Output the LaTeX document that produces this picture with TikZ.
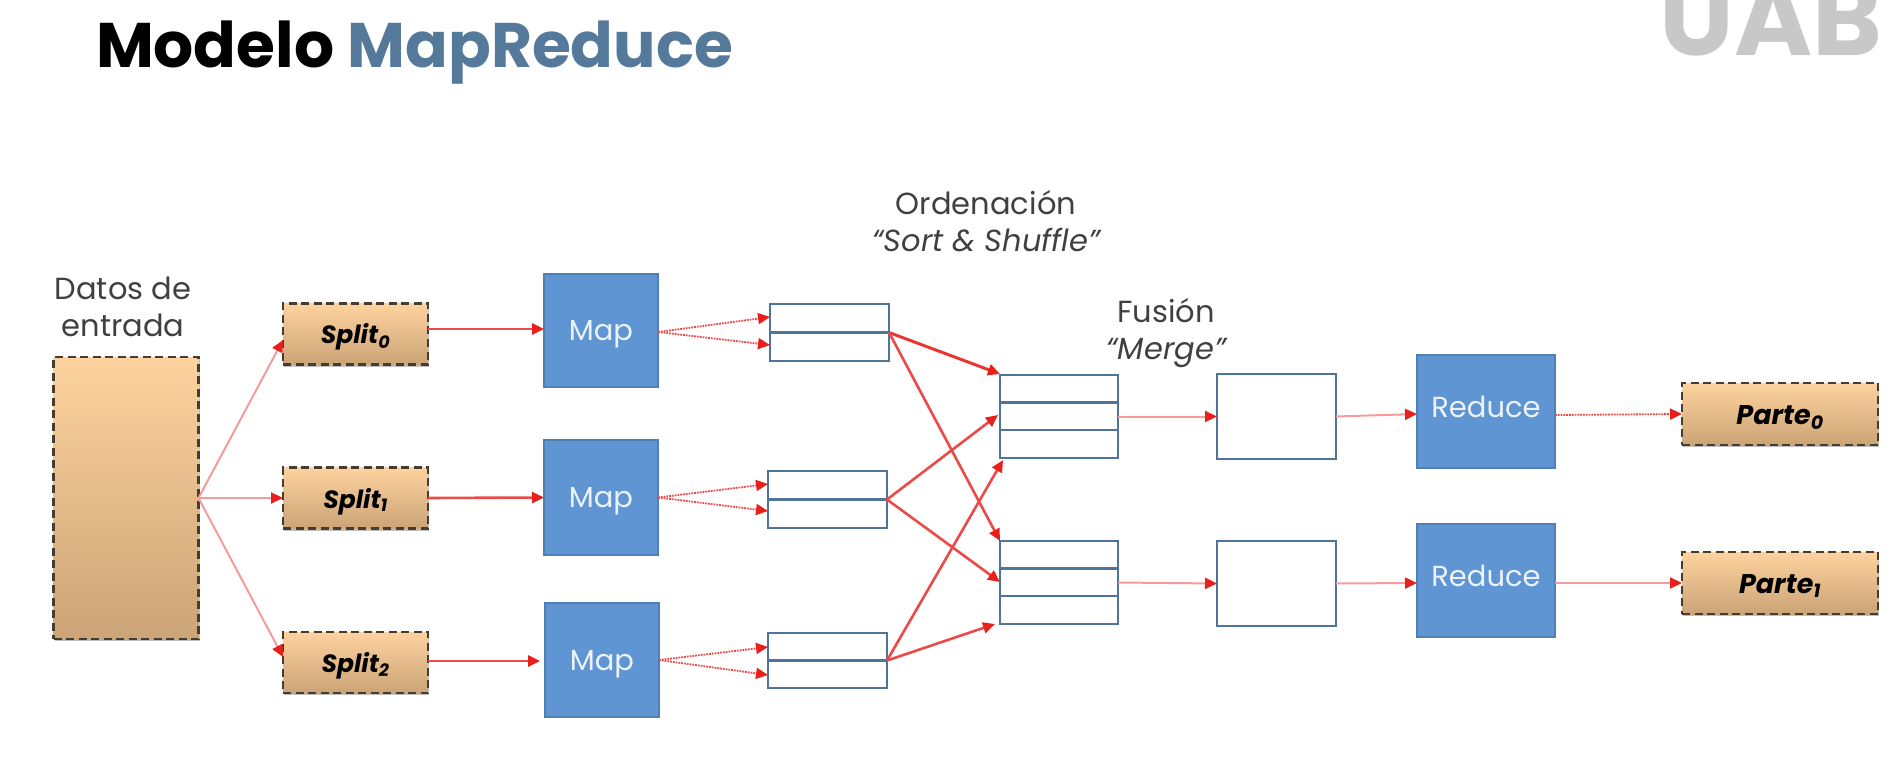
\documentclass[tikz,border=0pt]{standalone}
\usepackage{fontspec}
\setmainfont{Poppins}
\usetikzlibrary{arrows.meta,calc,shadows}
\definecolor{arrowred}{HTML}{E8201C}
\definecolor{softred}{HTML}{F49C9C}
\definecolor{midred}{HTML}{EC4A48}
\definecolor{boxblue}{HTML}{5F95D3}
\definecolor{boxedge}{HTML}{4F80B5}
\definecolor{stackedge}{HTML}{4F7399}
\definecolor{txtgrey}{HTML}{404040}
\definecolor{titleblue}{HTML}{55799A}
\definecolor{logogrey}{HTML}{C8C8C8}
\definecolor{orangetop}{HTML}{FDD29E}
\definecolor{orangebot}{HTML}{CBA477}
\definecolor{dashbrown}{HTML}{463C30}
\newcommand{\fs}[1]{\fontsize{#1}{#1}\selectfont}
\tikzset{
  base/.style={rectangle,inner sep=0pt,outer sep=0pt},
  sandbox/.style={base,draw=dashbrown,line width=2.8pt,dash pattern=on 8pt off 4.5pt,
    top color=orangetop,bottom color=orangebot,
    drop shadow={shadow xshift=1pt,shadow yshift=-2pt,opacity=.25,fill=black}},
  splitbox/.style={sandbox,minimum width=145pt,minimum height=61pt,text height=20pt,text depth=0pt,font=\fs{25}\bfseries\itshape\color{black}},
  partebox/.style={sandbox,minimum width=196pt,minimum height=62pt,text height=20pt,text depth=0pt,font=\fs{27}\bfseries\itshape\color{black}},
  procbox/.style={base,fill=boxblue,draw=boxedge,line width=1.2pt,text=white!88!boxblue,font=\fs{29},text height=20pt},
  mapbox/.style={procbox,text depth=0pt},
  reducebox/.style={procbox,minimum width=138pt,minimum height=113pt,text depth=9pt},
  stackbox/.style={base,draw=stackedge,line width=2.5pt,fill=white},
  stackline/.style={draw=stackedge,line width=2.5pt},
  lbl/.style={inner sep=0pt,outer sep=0pt,align=center,text=txtgrey,font=\fs{30.5}},
  tip/.style={-{Triangle[color=arrowred,length=12pt,width=11pt]}},
  thinarrow/.style={tip,draw=softred,line width=2pt},
  dotarrow/.style={tip,draw=midred,line width=1.8pt,dash pattern=on 1.8pt off 1pt},
  midarrow/.style={tip,draw=midred,line width=2.6pt},
  thickarrow/.style={tip,draw=arrowred!90!white,line width=3pt},
}
\begin{document}
\begin{tikzpicture}[x=1pt,y=-1pt]
\useasboundingbox (0,0) rectangle (1901,767);
% Title and logo
\node[base,anchor=base west,font=\fs{63}\bfseries] (title) at (96,68) {\textcolor{black}{Modelo} \textcolor{titleblue}{MapReduce}};
\begin{scope}
\clip (0,0) rectangle (1901,767);
\node[base,anchor=base east,font=\fs{106}\bfseries,text=logogrey] (logo) at (1882,56) {UAB};
\end{scope}
% Labels
\node[lbl] (datos) at (123,307) {Datos de\\[6pt]entrada};
\node[lbl] (orden) at (986,221) {Ordenación\\[6pt]{\itshape “Sort \& Shuffle”}};
\node[lbl] (fusion) at (1166,333) {Fusión\\[6pt]{\itshape “Merge”}};
% Input
\node[sandbox,minimum width=145pt,minimum height=282pt] (data) at (126,498) {};
\node[splitbox] (split0) at (355.5,334) {Split\textsubscript{0}};
\node[splitbox] (split1) at (355.5,498) {Split\textsubscript{1}};
\node[splitbox] (split2) at (355.5,662.5) {Split\textsubscript{2}};
% Map
\node[mapbox,minimum width=114pt,minimum height=113pt] (map0) at (601,330.5) {Map\hspace{8pt}};
\node[mapbox,minimum width=114pt,minimum height=115pt] (map1) at (601,497.5) {Map\hspace{8pt}};
\node[mapbox,minimum width=114pt,minimum height=114pt] (map2) at (602,660) {Map\hspace{8pt}};
% Sort stacks
\node[stackbox,minimum width=119pt,minimum height=57pt] (s0) at (829.5,332.5) {};
\node[stackbox,minimum width=119pt,minimum height=57pt] (s1) at (827.5,499.5) {};
\node[stackbox,minimum width=119pt,minimum height=55pt] (s2) at (827.5,660.5) {};
\foreach \n in {s0,s1,s2} \draw[stackline] (\n.west) -- (\n.east);
% Merge stacks
\node[stackbox,minimum width=118pt,minimum height=83pt] (m0) at (1059,416.5) {};
\node[stackbox,minimum width=118pt,minimum height=83pt] (m1) at (1059,582.5) {};
\foreach \n in {m0,m1} {
  \draw[stackline] ($(\n.north west)!.33!(\n.south west)$) -- ($(\n.north east)!.33!(\n.south east)$);
  \draw[stackline] ($(\n.north west)!.66!(\n.south west)$) -- ($(\n.north east)!.66!(\n.south east)$);
}
% Merged outputs
\node[stackbox,minimum width=119pt,minimum height=85pt] (e0) at (1276.5,416.5) {};
\node[stackbox,minimum width=119pt,minimum height=85pt] (e1) at (1276.5,583.5) {};
% Reduce
\node[reducebox] (r0) at (1486,411.5) {Reduce};
\node[reducebox] (r1) at (1486,580.5) {Reduce};
% Output
\node[partebox] (p0) at (1780,414) {Parte\textsubscript{0}};
\node[partebox] (p1) at (1780,583) {Parte\textsubscript{1}};
% Input to splits
\draw[thinarrow] (data.east) -- ([yshift=-6pt]split0.west);
\draw[thinarrow] (data.east) -- (split1.west);
\draw[thinarrow] (data.east) -- ([yshift=5.5pt]split2.west);
% Splits to maps
\draw[midarrow] ([yshift=5pt]split0.east) -- ([yshift=1.5pt]map0.west);
\draw[midarrow] (split1.east) -- (map1.west);
\draw[midarrow] ([yshift=1.5pt]split2.east) -- ([xshift=-5pt,yshift=-1pt]map2.west);
% Maps to stacks
\draw[dotarrow] ([yshift=-1.5pt]map0.east) -- ([yshift=15.5pt]s0.west);
\draw[dotarrow] ([yshift=-1.5pt]map0.east) -- ([yshift=-12.5pt]s0.west);
\draw[dotarrow] (map1.east) -- ([yshift=15.5pt]s1.west);
\draw[dotarrow] (map1.east) -- ([yshift=-11.5pt]s1.west);
\draw[dotarrow] (map2.east) -- ([yshift=13.5pt]s2.west);
\draw[dotarrow] (map2.east) -- ([yshift=-14.5pt]s2.west);
% Shuffle
\draw[thickarrow] (s0.east) -- ([yshift=1pt]m0.north west);
\draw[midarrow] (s0.east) -- (m1.north west);
\draw[midarrow] (s1.east) -- ([xshift=-2pt,yshift=1.5pt]m0.west);
\draw[midarrow] (s1.east) -- ([yshift=.5pt]m1.west);
\draw[midarrow] (s2.east) -- ([xshift=3pt,yshift=-2pt]m0.south west);
\draw[midarrow] (s2.east) -- ([xshift=-5pt]m1.south west);
% Merge and reduce
\draw[thinarrow] (m0.east) -- (e0.west);
\draw[thinarrow] (m1.east) -- (e1.west);
\draw[thinarrow] (e0.east) -- ([yshift=-2.5pt]r0.west);
\draw[thinarrow] (e1.east) -- ([yshift=-2.5pt]r1.west);
\draw[dotarrow] ([yshift=-3.5pt]r0.east) -- (p0.west);
\draw[thinarrow] ([yshift=-2.5pt]r1.east) -- (p1.west);
\end{tikzpicture}
\end{document}
